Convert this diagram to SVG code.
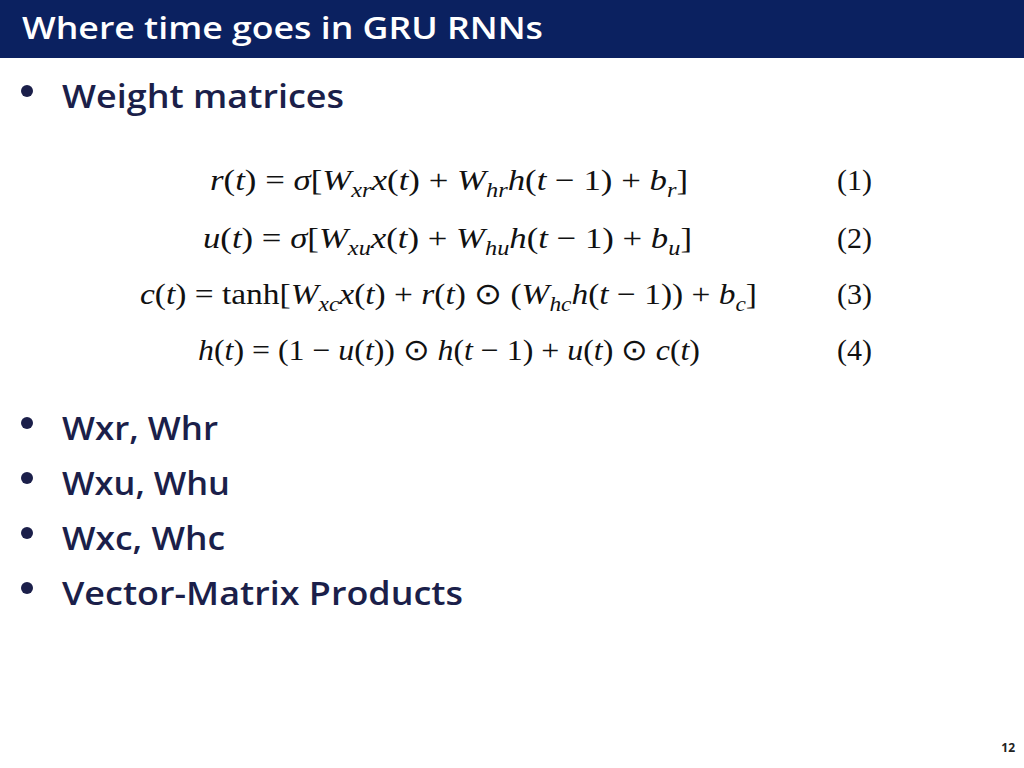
<svg xmlns="http://www.w3.org/2000/svg" width="1024" height="768" viewBox="0 0 1024 768">
<style>
.b{font-family:"Open Sans","Liberation Sans",sans-serif;font-weight:600;font-size:33px;fill:#1b1f4a}
.m{font-family:"Liberation Serif",serif;font-size:30px;fill:#111}
.i{font-style:italic}
.s{font-size:21px;font-style:italic}
</style>
<rect width="1024" height="768" fill="#fff"/>
<rect width="1024" height="58" fill="#0b2160"/>
<text x="22" y="39" font-family="'Open Sans','Liberation Sans',sans-serif" font-weight="600" font-size="31" fill="#fff" textLength="521" lengthAdjust="spacingAndGlyphs">Where time goes in GRU RNNs</text>
<g fill="#1b1f4a">
<circle cx="27" cy="91" r="6"/><circle cx="27" cy="423" r="6"/><circle cx="27" cy="478" r="6"/><circle cx="27" cy="533" r="6"/><circle cx="27" cy="588" r="6"/>
</g>
<text class="b" x="62" y="108" textLength="282" lengthAdjust="spacingAndGlyphs">Weight matrices</text>
<text class="b" x="62" y="440" textLength="156" lengthAdjust="spacingAndGlyphs">Wxr, Whr</text>
<text class="b" x="62" y="495" textLength="168" lengthAdjust="spacingAndGlyphs">Wxu, Whu</text>
<text class="b" x="62" y="550" textLength="163" lengthAdjust="spacingAndGlyphs">Wxc, Whc</text>
<text class="b" x="62" y="605" textLength="401" lengthAdjust="spacingAndGlyphs">Vector-Matrix Products</text>
<text class="m" x="210" y="190" textLength="478" lengthAdjust="spacingAndGlyphs"><tspan class="i">r</tspan>(<tspan class="i">t</tspan>) = <tspan class="i">σ</tspan>[<tspan class="i">W</tspan><tspan class="s" dy="7">xr</tspan><tspan class="i" dy="-7">x</tspan>(<tspan class="i">t</tspan>) + <tspan class="i">W</tspan><tspan class="s" dy="7">hr</tspan><tspan class="i" dy="-7">h</tspan>(<tspan class="i">t</tspan> − 1) + <tspan class="i">b</tspan><tspan class="s" dy="7">r</tspan><tspan dy="-7">]</tspan></text>
<text class="m" x="203" y="248" textLength="489" lengthAdjust="spacingAndGlyphs"><tspan class="i">u</tspan>(<tspan class="i">t</tspan>) = <tspan class="i">σ</tspan>[<tspan class="i">W</tspan><tspan class="s" dy="7">xu</tspan><tspan class="i" dy="-7">x</tspan>(<tspan class="i">t</tspan>) + <tspan class="i">W</tspan><tspan class="s" dy="7">hu</tspan><tspan class="i" dy="-7">h</tspan>(<tspan class="i">t</tspan> − 1) + <tspan class="i">b</tspan><tspan class="s" dy="7">u</tspan><tspan dy="-7">]</tspan></text>
<text class="m" x="140" y="304" textLength="617" lengthAdjust="spacingAndGlyphs"><tspan class="i">c</tspan>(<tspan class="i">t</tspan>) = tanh[<tspan class="i">W</tspan><tspan class="s" dy="7">xc</tspan><tspan class="i" dy="-7">x</tspan>(<tspan class="i">t</tspan>) + <tspan class="i">r</tspan>(<tspan class="i">t</tspan>) ⊙ (<tspan class="i">W</tspan><tspan class="s" dy="7">hc</tspan><tspan class="i" dy="-7">h</tspan>(<tspan class="i">t</tspan> − 1)) + <tspan class="i">b</tspan><tspan class="s" dy="7">c</tspan><tspan dy="-7">]</tspan></text>
<text class="m" x="198" y="360" textLength="502" lengthAdjust="spacingAndGlyphs"><tspan class="i">h</tspan>(<tspan class="i">t</tspan>) = (1 − <tspan class="i">u</tspan>(<tspan class="i">t</tspan>)) ⊙ <tspan class="i">h</tspan>(<tspan class="i">t</tspan> − 1) + <tspan class="i">u</tspan>(<tspan class="i">t</tspan>) ⊙ <tspan class="i">c</tspan>(<tspan class="i">t</tspan>)</text>
<text class="m" x="837" y="190">(1)</text>
<text class="m" x="837" y="248">(2)</text>
<text class="m" x="837" y="304">(3)</text>
<text class="m" x="837" y="360">(4)</text>
<text x="1015" y="752" text-anchor="end" font-family="'Open Sans','Liberation Sans',sans-serif" font-weight="700" font-size="12" fill="#222">12</text>
</svg>
